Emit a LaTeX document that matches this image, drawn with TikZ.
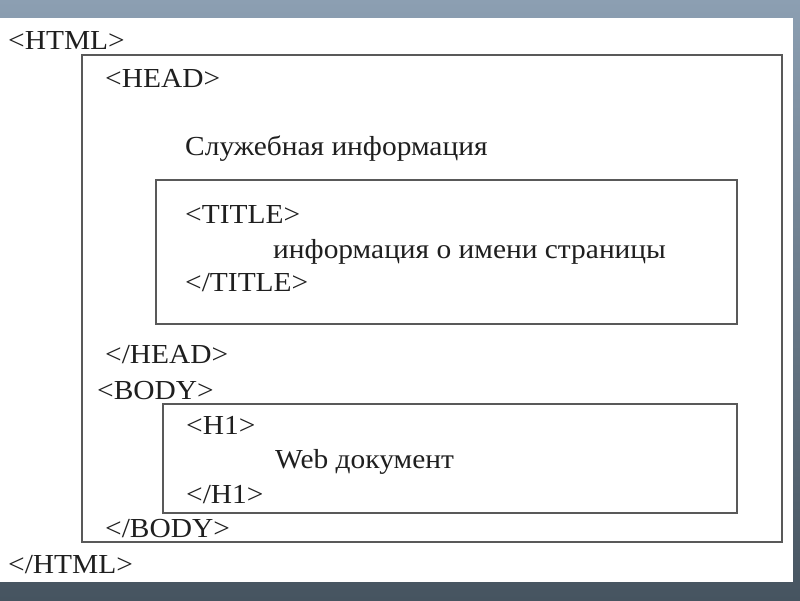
\documentclass[tikz,border=0pt]{standalone}
\usepackage{fontspec}
\setmainfont{Liberation Serif}
\newfontfamily\widerserif[FakeStretch=1.07]{Liberation Serif}
\begin{document}
\begin{tikzpicture}[x=1pt,y=-1pt,
  txt/.style={anchor=base west,inner sep=0pt,text=black!88,font=\widerserif\fontsize{27.5}{30}\selectfont},
  frame/.style={draw=black!65,line width=1.3pt}]
\useasboundingbox (0,0) rectangle (800,600);
\shade[top color={rgb,255:red,140;green,159;blue,178},bottom color={rgb,255:red,70;green,84;blue,96}] (0,0) rectangle (800,600);
\fill[white] (0,18) rectangle (793,582);
\draw[frame] (82,55) rectangle (782,542);
\draw[frame] (156,180) rectangle (737,324);
\draw[frame] (163,404) rectangle (737,513);
\node[txt] (html) at (8,49) {<HTML>};
\node[txt] (head) at (105,87) {<HEAD>};
\node[txt] (serv) at (185,155) {Служебная информация};
\node[txt] (title) at (185,223) {<TITLE>};
\node[txt] (info) at (273,258) {информация о имени страницы};
\node[txt] (etitle) at (185,291) {</TITLE>};
\node[txt] (ehead) at (105,363) {</HEAD>};
\node[txt] (body) at (97,399) {<BODY>};
\node[txt] (h1) at (186,434) {<H1>};
\node[txt] (web) at (275,468) {Web документ};
\node[txt] (eh1) at (186,503) {</H1>};
\node[txt] (ebody) at (105,537) {</BODY>};
\node[txt] (ehtml) at (8,573) {</HTML>};
\end{tikzpicture}
\end{document}
